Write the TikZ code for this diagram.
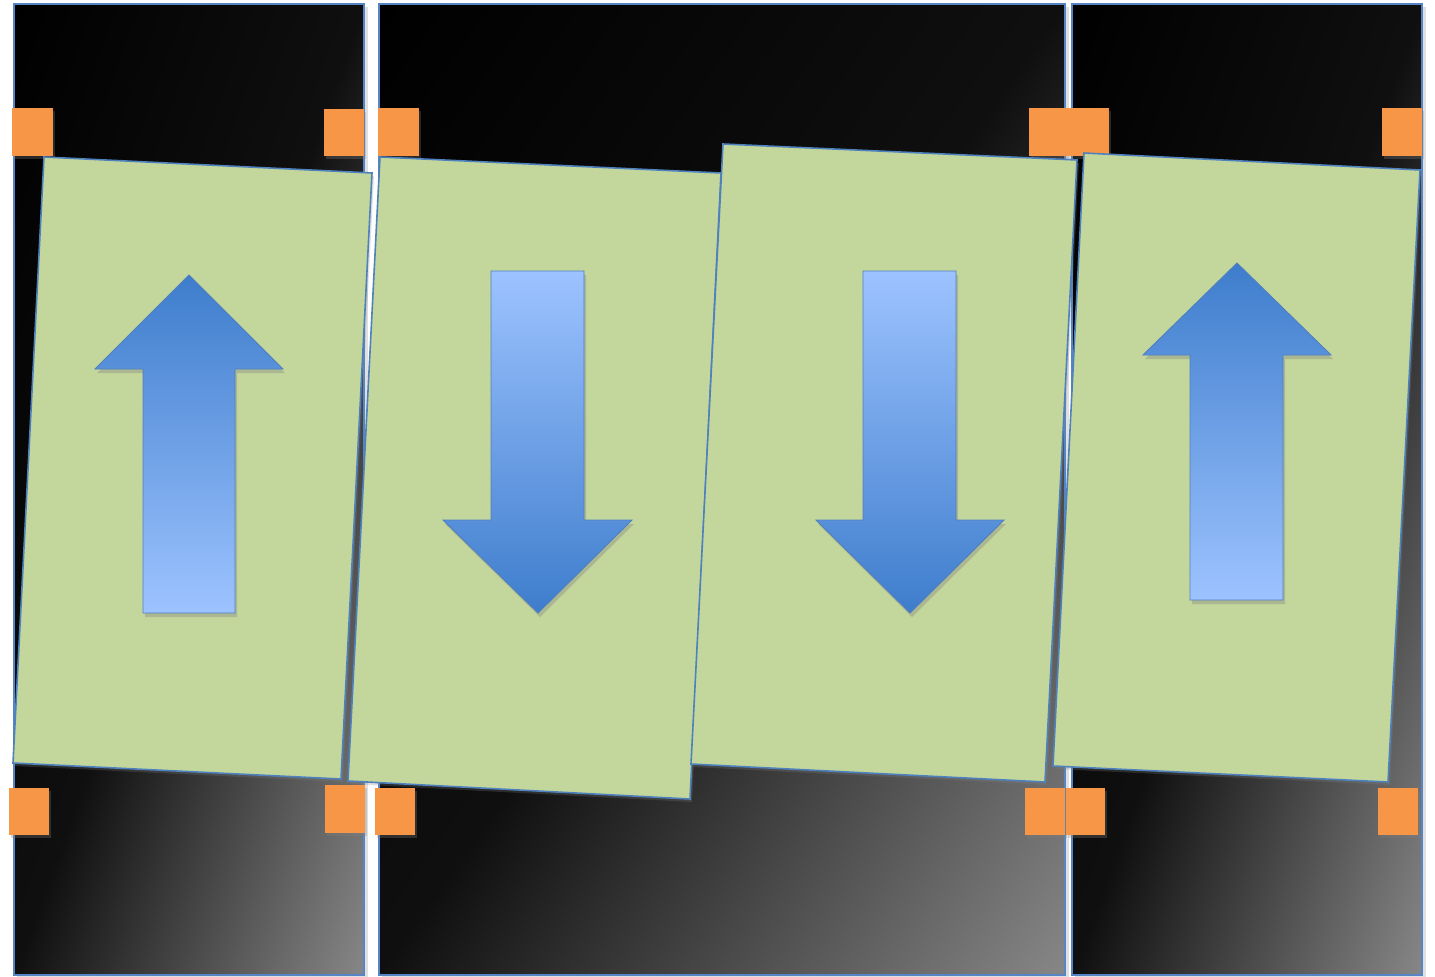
\documentclass[tikz,border=0pt]{standalone}
\usetikzlibrary{shadows}
\definecolor{cardgreen}{HTML}{C3D69B}
\definecolor{cardline}{HTML}{4F81BD}
\definecolor{sqorange}{HTML}{F79646}
\definecolor{arrdark}{HTML}{3E7DCC}
\definecolor{arrlight}{HTML}{9DC3FF}
\definecolor{arrline}{HTML}{4F7FBF}
\definecolor{panelline}{HTML}{5585C4}
\pgfdeclarehorizontalshading{panelshade}{100bp}{color(0bp)=(black); color(25bp)=(black); color(50bp)=(black!94!white); color(75bp)=(black!47!white); color(100bp)=(black!47!white)}
\tikzset{
  panelframe/.style={draw=panelline, line width=1.4pt},
  panelshadow/.style={fill=black, opacity=0.12},
  sqbox/.style={fill=sqorange, drop shadow={opacity=0.3, shadow xshift=2pt, shadow yshift=-3pt}},
  cardbox/.style={fill=cardgreen, draw=cardline, line width=1.6pt, line join=miter,
     drop shadow={opacity=0.25, shadow xshift=2pt, shadow yshift=-3pt}},
  uparrow/.style={top color=arrdark, bottom color=arrlight, draw=arrline, line width=0.9pt,
     drop shadow={opacity=0.35, shadow xshift=2pt, shadow yshift=-4pt}},
  downarrow/.style={top color=arrlight, bottom color=arrdark, draw=arrline, line width=0.9pt,
     drop shadow={opacity=0.35, shadow xshift=2pt, shadow yshift=-4pt}},
}
\newcommand{\gradpanel}[4]{%
  \pgfmathsetmacro{\pnlw}{#3-#1}%
  \pgfmathsetmacro{\pnlh}{#4-#2}%
  \begin{scope}
    \clip (#1,#2) rectangle (#3,#4);
    \begin{scope}[transform canvas={cm={\pnlw,-\pnlh,\pnlw,\pnlh,(#1,#2)}}]
      \shade[shading=panelshade] (0pt,-0.5pt) rectangle (1pt,0.5pt);
    \end{scope}
  \end{scope}
  \draw[panelframe] (#1,#2) rectangle (#3,#4);}
\begin{document}
\begin{tikzpicture}[x=1pt, y=-1pt]
\useasboundingbox (0,0) rectangle (1435,977);
\fill[white] (0,0) rectangle (1435,977);
% panel shadows
\fill[panelshadow] (17,7) rectangle (368,978);
\fill[panelshadow] (382,7) rectangle (1069,978);
\fill[panelshadow] (1075,7) rectangle (1426,978);
% panels
\gradpanel{14}{4}{364}{975}
\gradpanel{379}{4}{1065}{975}
\gradpanel{1072}{4}{1422}{975}
% orange squares top
\fill[sqbox] (12,108) rectangle (53,156);
\fill[sqbox] (324,109) rectangle (364,156);
\fill[sqbox] (378,108) rectangle (419,156);
\fill[sqbox] (1029,108) rectangle (1069,156);
\fill[sqbox] (1069,108) rectangle (1109,156);
\fill[sqbox] (1382,108) rectangle (1422,156);
% orange squares bottom
\fill[sqbox] (9,788) rectangle (49,835);
\fill[sqbox] (325,785) rectangle (365,833);
\fill[sqbox] (375,788) rectangle (415,835);
\fill[sqbox] (1025,788) rectangle (1065,835);
\fill[sqbox] (1066,788) rectangle (1105,835);
\fill[sqbox] (1378,788) rectangle (1418,835);
% cards
\path[cardbox] (44,157) -- (372,173) -- (341,779) -- (13,763) -- cycle;
\path[cardbox] (380,157) -- (721,173) -- (690,799) -- (348,781) -- cycle;
\path[cardbox] (723,144) -- (1077,160) -- (1045,782) -- (691,764) -- cycle;
\path[cardbox] (1084,153) -- (1420,170) -- (1388,782) -- (1053,766) -- cycle;
% arrows
\path[uparrow] (189,275) -- (283,369) -- (235,369) -- (235,613) -- (143,613) -- (143,369) -- (95,369) -- cycle;
\path[downarrow] (491,271) -- (584,271) -- (584,520) -- (632,520) -- (538,613) -- (443,520) -- (491,520) -- cycle;
\path[downarrow] (863,271) -- (956,271) -- (956,520) -- (1004,520) -- (910,613) -- (816,520) -- (863,520) -- cycle;
\path[uparrow] (1237,263) -- (1331,355) -- (1283,355) -- (1283,600) -- (1190,600) -- (1190,355) -- (1143,355) -- cycle;
\end{tikzpicture}
\end{document}
